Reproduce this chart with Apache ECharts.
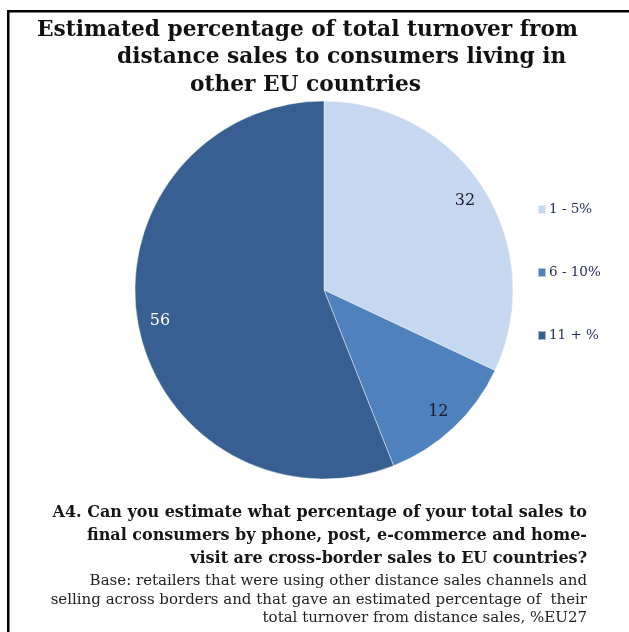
<!DOCTYPE html>
<html>
<head>
<meta charset="utf-8">
<script src="https://cdn.jsdelivr.net/npm/echarts@6/dist/echarts.min.js"></script>
<style>
  html, body { margin: 0; padding: 0; background: #fff; }
  #chart { width: 629px; height: 632px; }
</style>
</head>
<body>
<div id="chart"></div>
<script>
// shares of retailers, by band of cross-border turnover
const bands = ['1 - 5%', '6 - 10%', '11 + %']
const shares = [32, 12, 56]
const sliceColors = ['#c6d8ef', '#4f81bd', '#375f91']
const labelColors = ['#1b1b2b', '#1b1b2b', '#ffffff']

const titleLines = [
  'Estimated percentage of total turnover from',
  'distance sales to consumers living in',
  'other EU countries'
]
const noteBold = [
  'A4. Can you estimate what percentage of your total sales to',
  'final consumers by phone, post, e-commerce and home-',
  'visit are cross-border sales to EU countries?'
]
const noteBase = [
  'Base: retailers that were using other distance sales channels and',
  'selling across borders and that gave an estimated percentage of  their',
  'total turnover from distance sales, %EU27'
]

const serif = '"DejaVu Serif", "Liberation Serif", serif'
const chart = echarts.init(document.getElementById('chart'), null, { renderer: 'canvas' })

const pieData = bands.map((name, i) => ({
  name,
  value: shares[i],
  itemStyle: { color: sliceColors[i] },
  label: { color: labelColors[i] }
}))

// title lines are staggered in the original, so they get their own x
const titleX = [37, 117, 190]
const titleItems = titleLines.map((t, i) => ({
  type: 'text', left: titleX[i], top: 19 + i * 27.5,
  style: { text: t, font: 'bold 21.7px ' + serif, fill: '#111' }
}))

const noteItems = noteBold.map((t, i) => ({
  type: 'text', right: 42, top: 505 + i * 23,
  style: { text: t, font: 'bold 16px ' + serif, fill: '#161616', textAlign: 'right' }
})).concat(noteBase.map((t, i) => ({
  type: 'text', right: 42, top: 574 + i * 18.5,
  style: { text: t, font: '15px ' + serif, fill: '#222', textAlign: 'right' }
})))

chart.setOption({
  animation: false,
  legend: {
    orient: 'vertical',
    left: 532, top: 196,
    itemWidth: 8, itemHeight: 9, itemGap: 46,
    icon: 'rect',
    selectedMode: false,
    data: bands,
    textStyle: { fontFamily: serif, fontSize: 13.5, color: '#1f2a55', padding: [0, 0, 0, -2], lineHeight: 17 }
  },
  series: [
    {
      type: 'pie',
      center: [324, 290],
      radius: 189,
      startAngle: 90,
      clockwise: true,
      silent: true,
      label: { show: false },
      labelLine: { show: false },
      itemStyle: { borderColor: 'rgba(255,255,255,0.55)', borderWidth: 0.8 },
      data: pieData
    },
    {
      // transparent ring only used to place the value labels near the rim
      type: 'pie',
      center: [324, 290],
      radius: [140, 188],
      startAngle: 90,
      clockwise: true,
      silent: true,
      itemStyle: { color: 'rgba(0,0,0,0)' },
      label: {
        show: true, position: 'inside',
        formatter: '{c}',
        fontFamily: serif, fontSize: 16
      },
      labelLine: { show: false },
      data: pieData.map(d => ({ name: d.name, value: d.value, itemStyle: { color: 'rgba(0,0,0,0)' }, label: d.label }))
    }
  ],
  graphic: [
    { type: 'rect', shape: { x: 7, y: 10, width: 622, height: 2.5 }, style: { fill: '#000' } },
    { type: 'rect', shape: { x: 7, y: 10, width: 2.5, height: 622 }, style: { fill: '#000' } }
  ].concat(titleItems, noteItems)
})
</script>
</body>
</html>
